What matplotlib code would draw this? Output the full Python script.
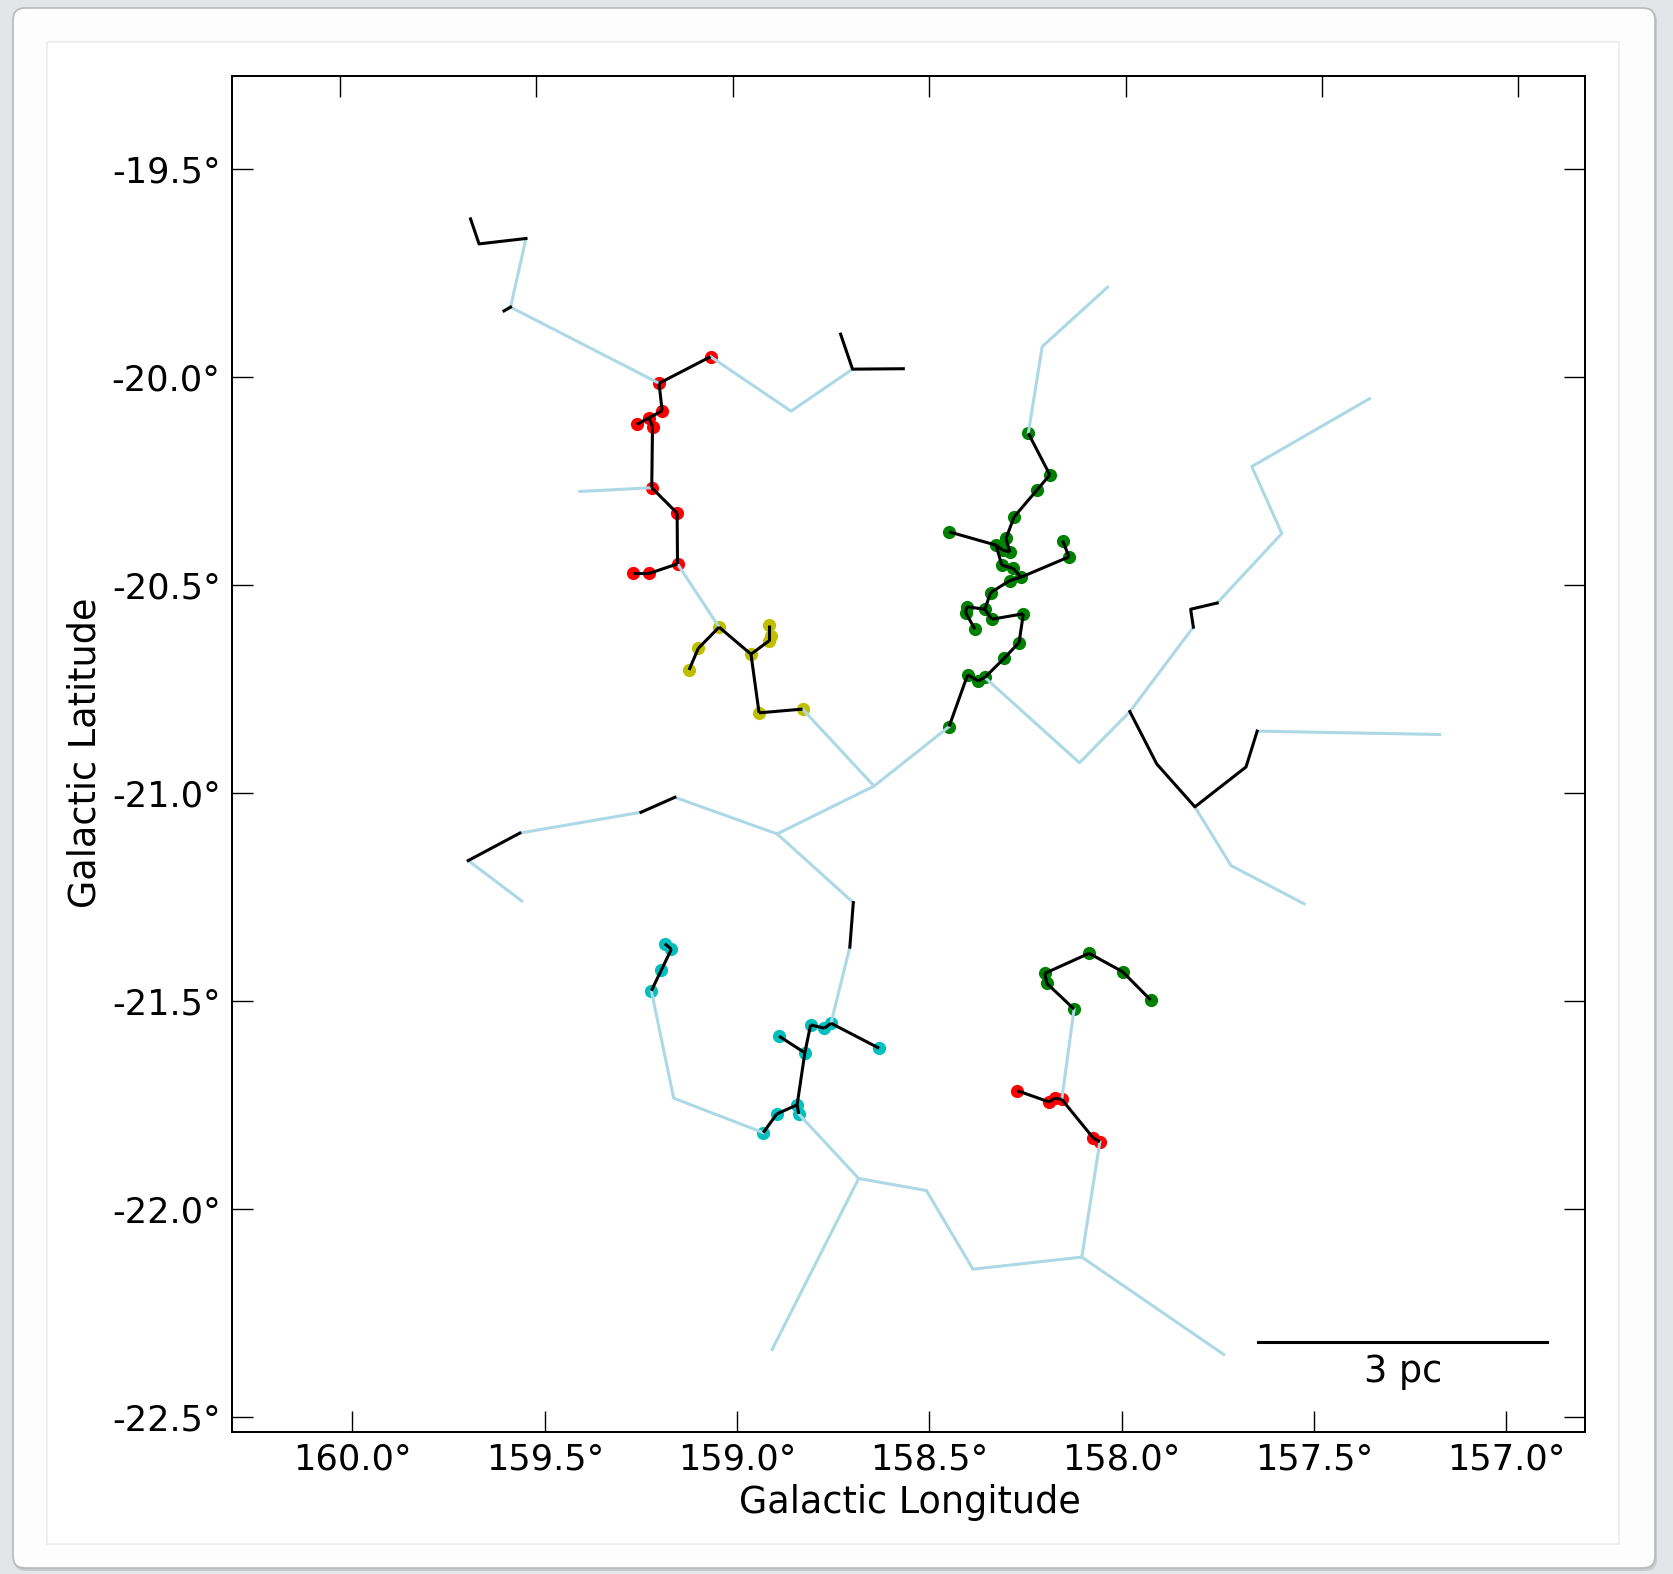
import matplotlib
matplotlib.use("Agg")
import matplotlib.pyplot as plt
from matplotlib.patches import FancyBboxPatch, Rectangle

# ---------------- data (galactic lon / lat, degrees) ----------------
xticks_lon = [160.0, 159.5, 159.0, 158.5, 158.0, 157.5, 157.0]
yticks_lat = [-19.5, -20.0, -20.5, -21.0, -21.5, -22.0, -22.5]
top_ticks_lon = [160.032, 159.522, 159.011, 158.5005, 157.990, 157.480, 156.969]
xlim = (160.314, 156.795)
ylim = (-22.5356, -19.2775)

# coloured clusters: points + black tree edges
red_a_lon = [159.069, 159.203, 159.195, 159.229, 159.261, 159.220, 159.222, 159.156, 159.155, 159.229, 159.272]
red_a_lat = [-19.952, -20.016, -20.082, -20.099, -20.115, -20.120, -20.267, -20.328, -20.450, -20.473, -20.473]
red_a_edges = [(0, 1), (1, 2), (2, 3), (3, 4), (3, 5), (5, 6), (6, 7), (7, 8), (8, 9), (9, 10)]

yellow_lon = [159.047, 159.101, 159.125, 158.964, 158.917, 158.917, 158.913, 158.943, 158.830]
yellow_lat = [-20.602, -20.653, -20.705, -20.667, -20.597, -20.635, -20.623, -20.808, -20.799]
yellow_edges = [(2, 1), (1, 0), (0, 3), (3, 5), (5, 4), (3, 7), (7, 8)]

green_a_lon = [158.243, 158.187, 158.220, 158.280, 158.449, 158.327, 158.301, 158.291, 158.310,
               158.312, 158.282, 158.291, 158.262, 158.154, 158.137, 158.341, 158.403, 158.406,
               158.382, 158.356, 158.338, 158.256, 158.267, 158.306, 158.401, 158.373, 158.356, 158.449]
green_a_lat = [-20.136, -20.236, -20.272, -20.337, -20.373, -20.405, -20.389, -20.421, -20.417,
               -20.453, -20.461, -20.490, -20.482, -20.394, -20.433, -20.519, -20.553, -20.567,
               -20.607, -20.559, -20.583, -20.570, -20.639, -20.677, -20.717, -20.731, -20.723, -20.841]
green_a_edges = [(0, 1), (1, 2), (2, 3), (3, 6), (6, 7), (7, 8), (8, 5), (4, 5), (5, 9), (9, 10),
                 (10, 12), (12, 14), (14, 13), (12, 11), (11, 15), (15, 19), (19, 16), (16, 17),
                 (17, 18), (19, 20), (20, 21), (21, 22), (22, 23), (23, 26), (26, 25), (25, 24), (24, 27)]

cyan_a_lon = [159.188, 159.171, 159.197, 159.223]
cyan_a_lat = [-21.363, -21.376, -21.426, -21.476]
cyan_a_edges = [(0, 1), (1, 2), (2, 3)]

cyan_b_lon = [158.932, 158.897, 158.844, 158.840, 158.824, 158.891, 158.809, 158.773, 158.756, 158.631]
cyan_b_lat = [-21.817, -21.772, -21.750, -21.772, -21.625, -21.585, -21.558, -21.566, -21.554, -21.614]
cyan_b_edges = [(0, 1), (1, 2), (2, 3), (2, 4), (4, 5), (4, 6), (6, 7), (7, 8), (8, 9)]

green_b_lon = [158.085, 158.200, 158.195, 158.124, 157.998, 157.925]
green_b_lat = [-21.386, -21.434, -21.458, -21.520, -21.430, -21.498]
green_b_edges = [(1, 0), (0, 4), (4, 5), (1, 2), (2, 3)]

red_b_lon = [158.272, 158.189, 158.174, 158.156, 158.074, 158.057]
red_b_lat = [-21.716, -21.743, -21.734, -21.737, -21.830, -21.839]
red_b_edges = [(0, 1), (1, 2), (2, 3), (3, 4), (4, 5)]

clusters = [
    (red_a_lon, red_a_lat, red_a_edges, "r"),
    (yellow_lon, yellow_lat, yellow_edges, "y"),
    (green_a_lon, green_a_lat, green_a_edges, "g"),
    (cyan_a_lon, cyan_a_lat, cyan_a_edges, "c"),
    (cyan_b_lon, cyan_b_lat, cyan_b_edges, "c"),
    (green_b_lon, green_b_lat, green_b_edges, "g"),
    (red_b_lon, red_b_lat, red_b_edges, "r"),
]

# black branches without points
black_paths = [
    ([159.693, 159.671, 159.549], [-19.621, -19.681, -19.668]),
    ([159.589, 159.606], [-19.833, -19.842]),
    ([158.731, 158.700, 158.568], [-19.898, -19.982, -19.981]),
    ([159.162, 159.250], [-21.011, -21.047]),
    ([159.565, 159.699], [-21.097, -21.163]),
    ([158.698, 158.707], [-21.264, -21.371]),
    ([157.814, 157.821, 157.752], [-20.602, -20.559, -20.544]),
    ([157.979, 157.909, 157.810, 157.677, 157.648], [-20.805, -20.931, -21.034, -20.938, -20.852]),
]

# light-blue branches
blue_paths = [
    ([159.549, 159.589, 159.203], [-19.668, -19.833, -20.016]),
    ([159.069, 158.860, 158.700], [-19.952, -20.083, -19.982]),
    ([159.409, 159.222], [-20.276, -20.267]),
    ([159.155, 159.047], [-20.450, -20.602]),
    ([158.037, 158.207, 158.243], [-19.785, -19.928, -20.136]),
    ([158.830, 158.644, 158.449], [-20.799, -20.984, -20.841]),
    ([158.644, 158.896, 159.162], [-20.984, -21.099, -21.011]),
    ([159.250, 159.565], [-21.047, -21.097]),
    ([159.699, 159.560], [-21.163, -21.260]),
    ([158.896, 158.698], [-21.099, -21.264]),
    ([158.707, 158.756], [-21.371, -21.554]),
    ([159.223, 159.165, 158.932], [-21.476, -21.734, -21.817]),
    ([158.840, 158.684, 158.508, 158.387, 158.104, 157.735], [-21.772, -21.927, -21.956, -22.145, -22.116, -22.350]),
    ([158.684, 158.909], [-21.927, -22.338]),
    ([158.104, 158.057], [-22.116, -21.839]),
    ([158.156, 158.124], [-21.737, -21.520]),
    ([158.356, 158.110, 157.979, 157.814], [-20.723, -20.928, -20.805, -20.602]),
    ([157.752, 157.584, 157.662, 157.356], [-20.544, -20.377, -20.216, -20.053]),
    ([157.810, 157.716, 157.526], [-21.034, -21.175, -21.267]),
    ([157.648, 157.174], [-20.852, -20.860]),
]

scalebar_lon = [157.645, 156.895]
scalebar_lat = -22.319
scalebar_label = "3 pc"
scalebar_label_pos = (157.268, -22.391)

# ---------------- figure ----------------
W, H = 1673, 1574
FS_TICK = 25.3
FS_LABEL = 26.3
fig = plt.figure(figsize=(W / 100, H / 100), dpi=100)
fig.patch.set_facecolor("#e4e5e8")

# screenshot-like card (behind the axes)
shadow = FancyBboxPatch((14, 3), 1643, 1562, boxstyle="round,pad=0,rounding_size=12",
                        transform=None, facecolor="#c9cacd", edgecolor="none", zorder=-3)
card = FancyBboxPatch((13, 6), 1642, 1560, boxstyle="round,pad=0,rounding_size=12",
                      transform=None, facecolor="#fdfdfd", edgecolor="#b8b9bc", lw=1.2, zorder=-2)
inner = Rectangle((47, 30), 1572, 1502, transform=None, facecolor="white",
                  edgecolor="#ececec", lw=1.2, zorder=-1)
fig.patches.extend([shadow, card, inner])

ax = fig.add_axes([231.7 / W, 1 - 1431.7 / H, (1585.3 - 231.7) / W, (1431.7 - 76) / H])
ax.set_xlim(*xlim)
ax.set_ylim(*ylim)

for lon, lat, edges, col in clusters:
    ax.plot(lon, lat, "o", color=col, markersize=9.5, markeredgewidth=0, zorder=2)
    for i, j in edges:
        ax.plot([lon[i], lon[j]], [lat[i], lat[j]], color="black", lw=2.2,
                solid_capstyle="butt", zorder=4)

for xs, ys in blue_paths:
    ax.plot(xs, ys, color="lightblue", lw=2.2, zorder=3)
for xs, ys in black_paths:
    ax.plot(xs, ys, color="black", lw=2.2, zorder=4)

ax.plot(scalebar_lon, [scalebar_lat, scalebar_lat], color="black", lw=2.2, zorder=4)
ax.text(scalebar_label_pos[0], scalebar_label_pos[1], scalebar_label, fontsize=FS_LABEL,
        ha="center", va="center")

ax.set_xticks(xticks_lon)
ax.set_xticklabels([f"{v:.1f}°" for v in xticks_lon])
ax.set_yticks(yticks_lat)
ax.set_yticklabels([f"{v:.1f}°" for v in yticks_lat])
ax.tick_params(axis="both", direction="in", length=15, width=1.0, labelsize=FS_TICK,
               right=True, top=False, pad=8)
for sp in ax.spines.values():
    sp.set_linewidth(1.3)

axt = ax.twiny()
axt.set_xlim(*xlim)
axt.set_xticks(top_ticks_lon)
axt.tick_params(axis="x", direction="in", length=15, width=1.0, labeltop=False)
for sp in axt.spines.values():
    sp.set_linewidth(1.3)

ax.set_xlabel("Galactic Longitude", fontsize=FS_LABEL)
ax.set_ylabel("Galactic Latitude", fontsize=FS_LABEL)
ax.xaxis.label.set_va("center")
ax.yaxis.label.set_va("center")
ax.xaxis.set_label_coords(0.501, -0.0525)
ax.yaxis.set_label_coords(-0.1085, 0.501)

fig.savefig("out.png", dpi=100, facecolor=fig.get_facecolor())
